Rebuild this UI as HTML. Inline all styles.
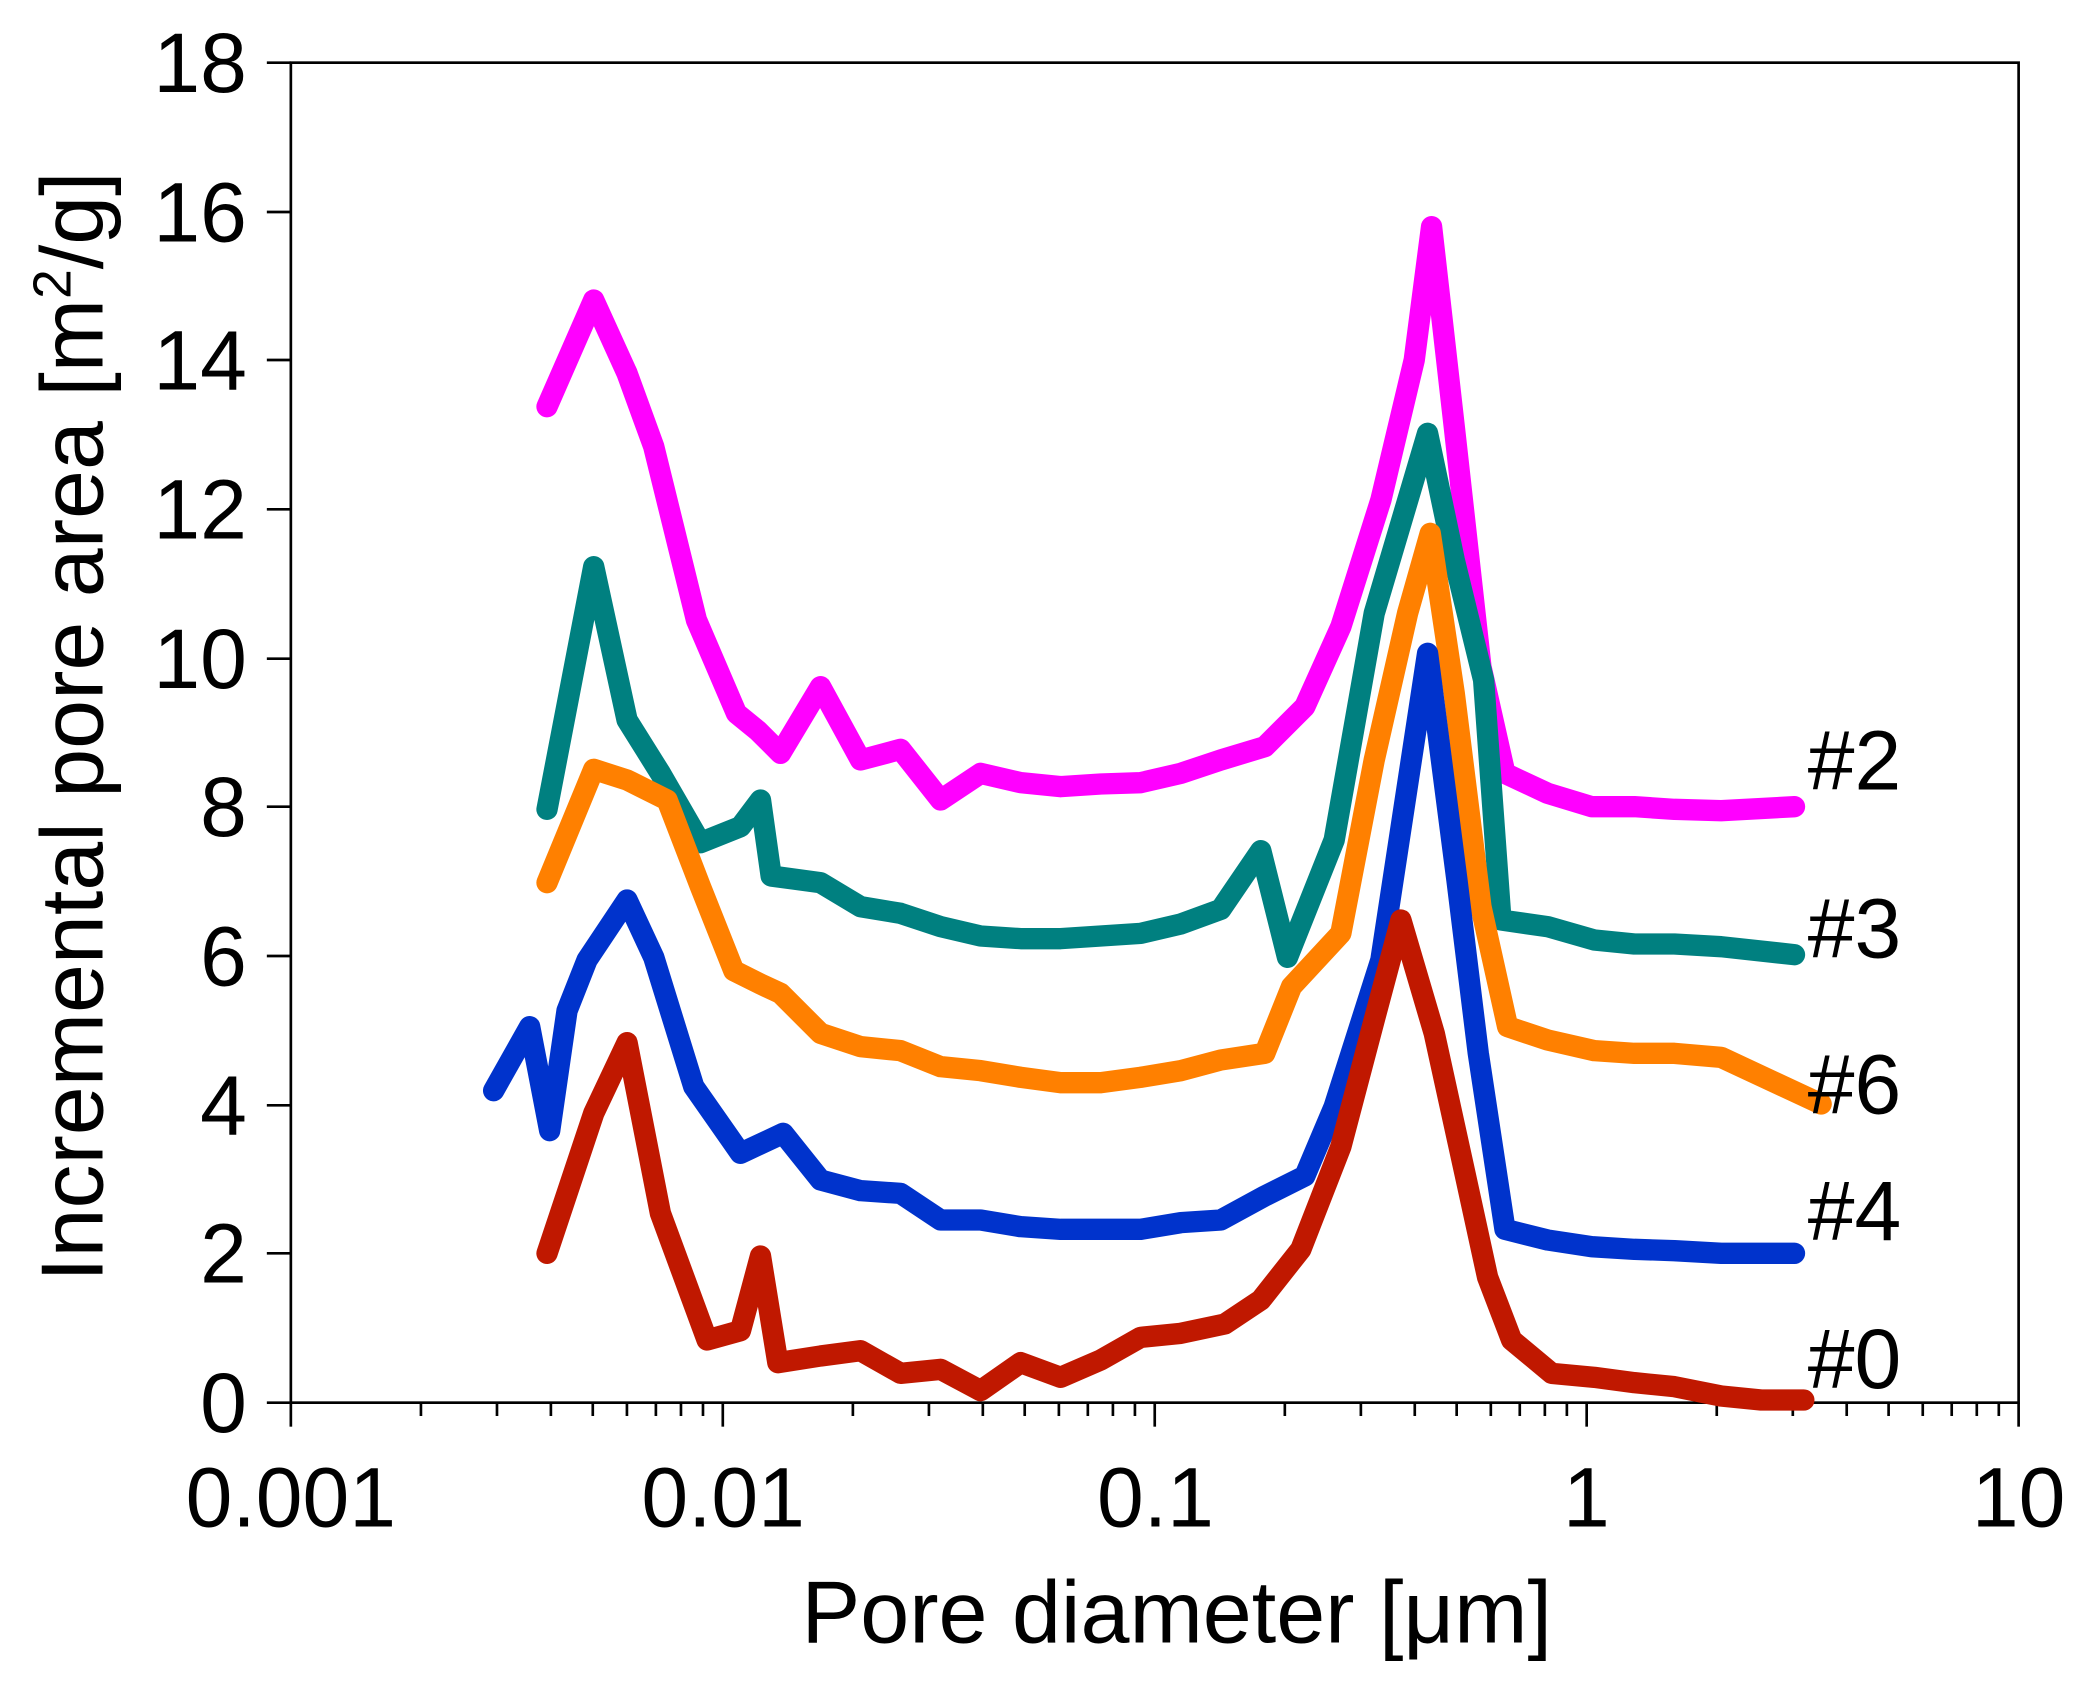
<!DOCTYPE html>
<html><head><meta charset="utf-8"><style>html,body{margin:0;padding:0;background:#fff}svg{display:block}</style></head>
<body>
<svg width="2092" height="1688" viewBox="0 0 1568 1266" preserveAspectRatio="none" xmlns="http://www.w3.org/2000/svg" font-family="Liberation Sans, Arial, sans-serif">
<rect x="0" y="0" width="1568" height="1266" fill="#fff"/>
<rect x="218" y="47" width="1295" height="1005" fill="none" stroke="#000" stroke-width="2"/>
<g stroke="#000" stroke-width="2">
<line x1="200" y1="47" x2="218" y2="47"/><line x1="200" y1="159" x2="218" y2="159"/><line x1="200" y1="270" x2="218" y2="270"/><line x1="200" y1="382" x2="218" y2="382"/><line x1="200" y1="494" x2="218" y2="494"/><line x1="200" y1="605" x2="218" y2="605"/><line x1="200" y1="717" x2="218" y2="717"/><line x1="200" y1="829" x2="218" y2="829"/><line x1="200" y1="940" x2="218" y2="940"/><line x1="200" y1="1052" x2="218" y2="1052"/>
</g>
<g stroke="#000" stroke-width="2">
<line x1="218" y1="1052" x2="218" y2="1070"/><line x1="315.5" y1="1052" x2="315.5" y2="1062"/><line x1="372.5" y1="1052" x2="372.5" y2="1062"/><line x1="412.9" y1="1052" x2="412.9" y2="1062"/><line x1="444.3" y1="1052" x2="444.3" y2="1062"/><line x1="469.9" y1="1052" x2="469.9" y2="1062"/><line x1="491.6" y1="1052" x2="491.6" y2="1062"/><line x1="510.4" y1="1052" x2="510.4" y2="1062"/><line x1="526.9" y1="1052" x2="526.9" y2="1062"/>
<line x1="541.75" y1="1052" x2="541.75" y2="1070"/><line x1="639.25" y1="1052" x2="639.25" y2="1062"/><line x1="696.25" y1="1052" x2="696.25" y2="1062"/><line x1="736.65" y1="1052" x2="736.65" y2="1062"/><line x1="768.05" y1="1052" x2="768.05" y2="1062"/><line x1="793.65" y1="1052" x2="793.65" y2="1062"/><line x1="815.35" y1="1052" x2="815.35" y2="1062"/><line x1="834.15" y1="1052" x2="834.15" y2="1062"/><line x1="850.65" y1="1052" x2="850.65" y2="1062"/>
<line x1="865.5" y1="1052" x2="865.5" y2="1070"/><line x1="963" y1="1052" x2="963" y2="1062"/><line x1="1020" y1="1052" x2="1020" y2="1062"/><line x1="1060.4" y1="1052" x2="1060.4" y2="1062"/><line x1="1091.8" y1="1052" x2="1091.8" y2="1062"/><line x1="1117.4" y1="1052" x2="1117.4" y2="1062"/><line x1="1139.1" y1="1052" x2="1139.1" y2="1062"/><line x1="1157.9" y1="1052" x2="1157.9" y2="1062"/><line x1="1174.4" y1="1052" x2="1174.4" y2="1062"/>
<line x1="1189.25" y1="1052" x2="1189.25" y2="1070"/><line x1="1286.75" y1="1052" x2="1286.75" y2="1062"/><line x1="1343.75" y1="1052" x2="1343.75" y2="1062"/><line x1="1384.15" y1="1052" x2="1384.15" y2="1062"/><line x1="1415.55" y1="1052" x2="1415.55" y2="1062"/><line x1="1441.15" y1="1052" x2="1441.15" y2="1062"/><line x1="1462.85" y1="1052" x2="1462.85" y2="1062"/><line x1="1481.65" y1="1052" x2="1481.65" y2="1062"/><line x1="1498.15" y1="1052" x2="1498.15" y2="1062"/>
<line x1="1513" y1="1052" x2="1513" y2="1070"/>
</g>
<g font-size="63" text-anchor="end" fill="#000">
<text x="185" y="69">18</text><text x="185" y="181">16</text><text x="185" y="292">14</text><text x="185" y="404">12</text><text x="185" y="516">10</text><text x="185" y="627">8</text><text x="185" y="739">6</text><text x="185" y="851">4</text><text x="185" y="962">2</text><text x="185" y="1074">0</text>
</g>
<g font-size="63" text-anchor="middle" fill="#000">
<text x="218" y="1145">0.001</text><text x="542" y="1145">0.01</text><text x="866" y="1145">0.1</text><text x="1189" y="1145">1</text><text x="1513" y="1145">10</text>
</g>
<text x="882" y="1232" font-size="66" text-anchor="middle">Pore diameter [μm]</text>
<text transform="translate(77,545) rotate(-90)" font-size="66" text-anchor="middle">Incremental pore area [m<tspan font-size="40" dy="-24">2</tspan><tspan dy="24">/g]</tspan></text>
<g fill="none" stroke-width="16" stroke-linejoin="round" stroke-linecap="round">
<polyline stroke="#ff00ff" points="410,305 445,225 470,280 490,335 522,465 552,535 568,548 585,565 615,515 645,570 675,562 705,600 735,580 765,587 795,590 825,588 855,587 885,580 915,570 948,560 978,530 1005,470 1035,375 1060,270 1073,170 1090,320 1110,500 1128,580 1160,595 1193,605 1225,605 1255,607 1290,608 1345,605"/>
<polyline stroke="#008080" points="410,607 445,425 470,540 495,580 525,632 555,620 570,600 578,657 615,662 645,680 675,685 705,695 735,702 765,704 795,704 825,702 855,700 885,693 915,682 945,638 965,718 1000,630 1030,460 1070,325 1090,420 1112,510 1125,690 1160,695 1195,705 1225,708 1255,708 1290,710 1345,716"/>
<polyline stroke="#ff8000" points="410,662 445,577 470,585 500,600 525,665 550,728 570,738 585,745 615,775 645,785 675,788 705,800 735,803 765,808 795,812 825,812 855,808 885,803 915,795 948,790 968,740 1005,700 1030,570 1055,460 1072,400 1090,520 1110,680 1130,770 1160,780 1195,788 1225,790 1255,790 1290,793 1365,828"/>
<polyline stroke="#0033cc" points="370,818 397,770 412,848 425,758 440,720 470,675 490,718 520,815 555,865 587,850 615,885 645,893 675,895 705,915 735,915 765,920 795,922 825,922 855,922 885,917 915,915 948,897 978,882 1000,830 1035,720 1070,490 1092,660 1108,790 1128,922 1160,930 1193,935 1225,937 1255,938 1290,940 1345,940"/>
<polyline stroke="#c01800" points="410,940 445,835 470,782 495,910 530,1005 555,998 570,942 583,1022 615,1017 645,1013 675,1030 705,1027 735,1043 765,1022 795,1033 825,1020 855,1003 885,1000 918,993 945,975 975,937 1005,860 1030,765 1050,690 1075,775 1098,880 1115,958 1133,1005 1163,1030 1195,1033 1225,1037 1255,1040 1290,1047 1320,1050 1352,1050"/>
</g>
<g font-size="63" fill="#000">
<text x="1355" y="592">#2</text><text x="1355" y="718">#3</text><text x="1355" y="835">#6</text><text x="1355" y="930">#4</text><text x="1355" y="1041">#0</text>
</g>
</svg>
</body></html>
